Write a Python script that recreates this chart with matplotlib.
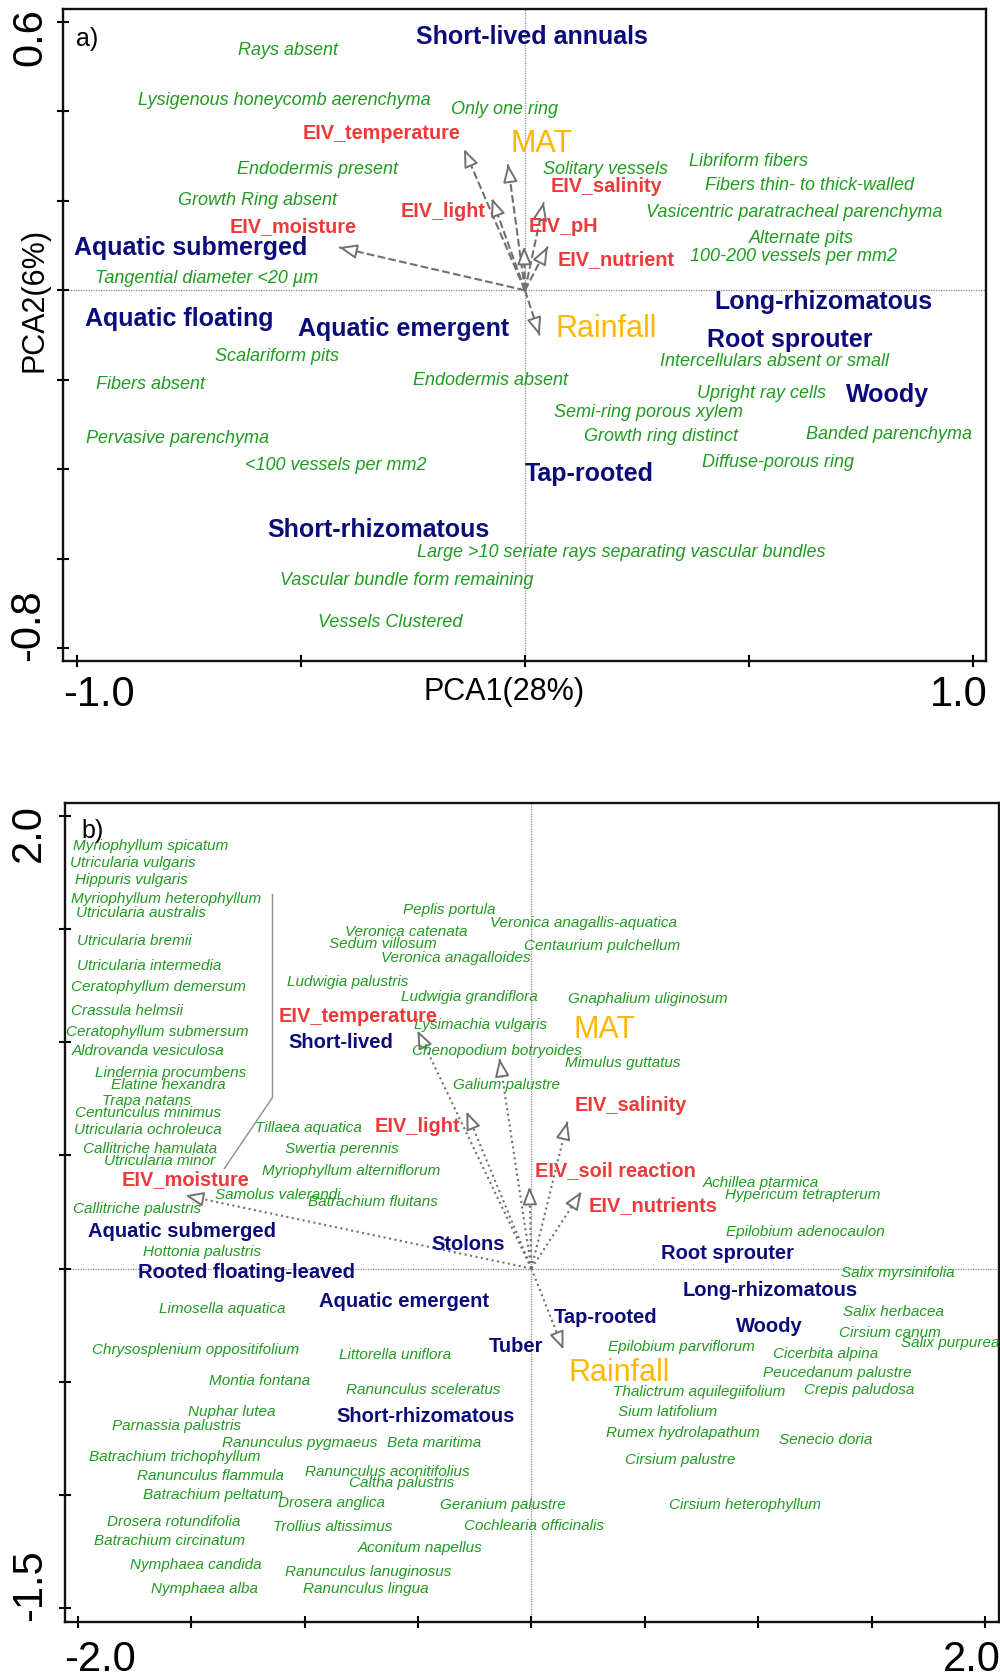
import numpy as np
import matplotlib
matplotlib.use("Agg")
import matplotlib.pyplot as plt

plt.rcParams["font.family"] = ["Liberation Sans", "DejaVu Sans"]

GREEN = "#1f9b1f"
NAVY = "#0b0b7a"
RED = "#ec3a3a"
GOLD = "#ffb600"
ARROW_GRAY = "#707070"
ZERO_GRAY = "#8a8a8a"

# ---------------- panel a: anatomical traits ----------------
a_trait_names = [
    "Rays absent", "Lysigenous honeycomb aerenchyma", "Only one ring",
    "Endodermis present", "Growth Ring absent", "Tangential diameter <20 µm",
    "Solitary vessels", "Libriform fibers", "Fibers thin- to thick-walled",
    "Vasicentric paratracheal parenchyma", "Alternate pits",
    "100-200 vessels per mm2", "Scalariform pits", "Fibers absent",
    "Endodermis absent", "Intercellulars absent or small", "Upright ray cells",
    "Semi-ring porous xylem", "Pervasive parenchyma", "Growth ring distinct",
    "Banded parenchyma", "<100 vessels per mm2", "Diffuse-porous ring",
    "Large >10 seriate rays separating vascular bundles",
    "Vascular bundle form remaining", "Vessels Clustered",
]
a_trait_x = [-0.529, -0.538, -0.045, -0.462, -0.598, -0.710, 0.179, 0.498,
             0.636, 0.600, 0.616, 0.600, -0.554, -0.835, -0.076, 0.558,
             0.529, 0.275, -0.775, 0.304, 0.813, -0.422, 0.565, 0.214,
             -0.263, -0.301]
a_trait_y = [0.537, 0.425, 0.405, 0.271, 0.201, 0.027, 0.271, 0.287, 0.235,
             0.175, 0.116, 0.076, -0.148, -0.210, -0.201, -0.159, -0.231,
             -0.273, -0.331, -0.327, -0.322, -0.392, -0.385, -0.587, -0.649,
             -0.743]

a_form_names = ["Short-lived annuals", "Aquatic submerged", "Aquatic floating",
                "Aquatic emergent", "Long-rhizomatous", "Root sprouter",
                "Woody", "Tap-rooted", "Short-rhizomatous"]
a_form_x = [0.016, -0.746, -0.772, -0.272, 0.667, 0.592, 0.810, 0.143, -0.328]
a_form_y = [0.566, 0.094, -0.065, -0.087, -0.027, -0.112, -0.235, -0.410, -0.535]

a_eiv_names = ["EIV_temperature", "EIV_light", "EIV_moisture",
               "EIV_salinity", "EIV_pH", "EIV_nutrient"]
a_eiv_label_x = [-0.321, -0.183, -0.518, 0.181, 0.085, 0.203]
a_eiv_label_y = [0.351, 0.177, 0.143, 0.231, 0.143, 0.069]
a_eiv_arrow_x = [-0.136, -0.074, -0.415, 0.042, -0.002, 0.051]
a_eiv_arrow_y = [0.316, 0.206, 0.096, 0.197, 0.098, 0.098]

a_clim_names = ["MAT", "Rainfall"]
a_clim_label_x = [0.038, 0.181]
a_clim_label_y = [0.327, -0.087]
a_clim_arrow_x = [-0.038, 0.033]
a_clim_arrow_y = [0.282, -0.101]

a_xticks = [-1.0, -0.5, 0.0, 0.5, 1.0]
a_yticks = [0.6, 0.4, 0.2, 0.0, -0.2, -0.4, -0.6, -0.8]

# ---------------- panel b: species ----------------
b_species_names = [
    "Myriophyllum spicatum", "Utricularia vulgaris", "Hippuris vulgaris",
    "Myriophyllum heterophyllum", "Utricularia australis", "Utricularia bremii",
    "Utricularia intermedia", "Ceratophyllum demersum", "Crassula helmsii",
    "Ceratophyllum submersum", "Aldrovanda vesiculosa", "Lindernia procumbens",
    "Elatine hexandra", "Trapa natans", "Centunculus minimus",
    "Utricularia ochroleuca", "Callitriche hamulata", "Utricularia minor",
    "Samolus valerandi", "Callitriche palustris", "Tillaea aquatica",
    "Swertia perennis", "Myriophyllum alterniflorum", "Batrachium fluitans",
    "Hottonia palustris", "Limosella aquatica", "Chrysosplenium oppositifolium",
    "Littorella uniflora", "Montia fontana", "Ranunculus sceleratus",
    "Nuphar lutea", "Parnassia palustris", "Ranunculus pygmaeus",
    "Beta maritima", "Batrachium trichophyllum", "Ranunculus flammula",
    "Ranunculus aconitifolius", "Caltha palustris", "Batrachium peltatum",
    "Drosera anglica", "Geranium palustre", "Drosera rotundifolia",
    "Trollius altissimus", "Cochlearia officinalis", "Batrachium circinatum",
    "Aconitum napellus", "Nymphaea candida", "Ranunculus lanuginosus",
    "Nymphaea alba", "Ranunculus lingua", "Peplis portula",
    "Veronica anagallis-aquatica", "Veronica catenata", "Sedum villosum",
    "Centaurium pulchellum", "Veronica anagalloides", "Ludwigia palustris",
    "Ludwigia grandiflora", "Gnaphalium uliginosum", "Lysimachia vulgaris",
    "Chenopodium botryoides", "Mimulus guttatus", "Galium palustre",
    "Achillea ptarmica", "Hypericum tetrapterum", "Epilobium adenocaulon",
    "Salix myrsinifolia", "Salix herbacea", "Cirsium canum", "Salix purpurea",
    "Epilobium parviflorum", "Cicerbita alpina", "Peucedanum palustre",
    "Thalictrum aquilegiifolium", "Crepis paludosa", "Sium latifolium",
    "Rumex hydrolapathum", "Senecio doria", "Cirsium palustre",
    "Cirsium heterophyllum",
]
b_species_x = [
    -1.680, -1.760, -1.764, -1.610, -1.720, -1.751, -1.685, -1.645, -1.782,
    -1.649, -1.689, -1.592, -1.601, -1.698, -1.693, -1.693, -1.680, -1.641,
    -1.120, -1.738, -0.983, -0.838, -0.794, -0.697, -1.455, -1.363, -1.482,
    -0.600, -1.200, -0.476, -1.323, -1.566, -1.023, -0.428, -1.574, -1.416,
    -0.635, -0.573, -1.402, -0.882, -0.128, -1.579, -0.878, 0.013, -1.596,
    -0.490, -1.482, -0.719, -1.442, -0.732, -0.362, 0.229, -0.551, -0.653,
    0.313, -0.335, -0.811, -0.273, 0.512, -0.225, -0.150, 0.401, -0.110,
    1.014, 1.195, 1.208, 1.614, 1.596, 1.583, 1.848, 0.662, 1.297, 1.350,
    0.741, 1.447, 0.600, 0.666, 1.297, 0.657, 0.944,
]
b_species_y = [
    1.865, 1.790, 1.715, 1.631, 1.569, 1.449, 1.335, 1.242, 1.140, 1.047,
    0.959, 0.866, 0.809, 0.742, 0.689, 0.614, 0.530, 0.473, 0.327, 0.261,
    0.619, 0.526, 0.429, 0.292, 0.071, -0.181, -0.362, -0.380, -0.499,
    -0.535, -0.636, -0.694, -0.773, -0.773, -0.835, -0.915, -0.897, -0.946,
    -1.003, -1.034, -1.043, -1.122, -1.144, -1.140, -1.206, -1.233, -1.312,
    -1.339, -1.414, -1.418, 1.582, 1.525, 1.489, 1.436, 1.427, 1.370, 1.264,
    1.198, 1.193, 1.078, 0.959, 0.906, 0.813, 0.380, 0.323, 0.163, -0.022,
    -0.194, -0.287, -0.331, -0.345, -0.376, -0.460, -0.544, -0.535, -0.632,
    -0.729, -0.756, -0.844, -1.043,
]

b_form_names = ["Short-lived", "Aquatic submerged", "Stolons",
                "Rooted floating-leaved", "Aquatic emergent", "Tuber",
                "Short-rhizomatous", "Root sprouter", "Long-rhizomatous",
                "Tap-rooted", "Woody"]
b_form_x = [-0.842, -1.539, -0.278, -1.257, -0.560, -0.066, -0.467, 0.864,
            1.054, 0.326, 1.050]
b_form_y = [0.999, 0.163, 0.106, -0.018, -0.146, -0.345, -0.654, 0.066,
            -0.097, -0.217, -0.256]

b_eiv_names = ["EIV_temperature", "EIV_light", "EIV_moisture",
               "EIV_salinity", "EIV_soil reaction", "EIV_nutrients"]
b_eiv_label_x = [-0.763, -0.503, -1.526, 0.437, 0.370, 0.538]
b_eiv_label_y = [1.114, 0.627, 0.393, 0.720, 0.433, 0.278]
b_eiv_arrow_x = [-0.503, -0.287, -1.526, 0.159, -0.009, 0.221]
b_eiv_arrow_y = [1.052, 0.694, 0.323, 0.650, 0.362, 0.340]

b_clim_names = ["MAT", "Rainfall"]
b_clim_label_x = [0.322, 0.388]
b_clim_label_y = [1.052, -0.460]
b_clim_arrow_x = [-0.141, 0.141]
b_clim_arrow_y = [0.928, -0.358]

# leader line tying the crowded aquatic species column to EIV_moisture
b_leader_x = [-1.142, -1.142, -1.354]
b_leader_y = [1.653, 0.756, 0.442]

b_xticks = [-2.0, -1.5, -1.0, -0.5, 0.0, 0.5, 1.0, 1.5, 2.0]
b_yticks = [2.0, 1.5, 1.0, 0.5, 0.0, -0.5, -1.0, -1.5]


def draw_arrow(ax, x, y, ls):
    ax.plot([0, x], [0, y], ls=ls, color=ARROW_GRAY, lw=1.5, zorder=2)
    p0 = ax.transData.transform((0.0, 0.0))
    p1 = ax.transData.transform((x, y))
    d = (p1 - p0) / np.hypot(*(p1 - p0))
    back = 16.0
    ax.annotate("", xy=(x, y), xycoords="data",
                xytext=(-d[0] * back, -d[1] * back), textcoords="offset pixels",
                arrowprops=dict(arrowstyle="-|>,head_length=0.55,head_width=0.22",
                                mutation_scale=20, fc="white", ec=ARROW_GRAY,
                                lw=1.4, shrinkA=0, shrinkB=0),
                zorder=3)


def style_axes(ax, xlim, ylim, xticks, yticks):
    ax.set_xlim(*xlim)
    ax.set_ylim(*ylim)
    ax.set_xticks(xticks)
    ax.set_yticks(yticks)
    ax.set_xticklabels([])
    ax.set_yticklabels([])
    ax.tick_params(direction="inout", length=9, width=1.5, color="black")
    for s in ax.spines.values():
        s.set_linewidth(1.7)
        s.set_color("#111111")
    ax.axhline(0, color=ZERO_GRAY, lw=0.9, ls=(0, (1, 1)), zorder=1)
    ax.axvline(0, color=ZERO_GRAY, lw=0.9, ls=(0, (1, 1)), zorder=1)


def tick_text(ax, s, axis, val, dx, dy):
    if axis == "x":
        ax.annotate(s, xy=(val, 0), xycoords=("data", "axes fraction"),
                    xytext=(dx, dy), textcoords="offset pixels",
                    ha="center", va="center", fontsize=30, annotation_clip=False)
    else:
        ax.annotate(s, xy=(0, val), xycoords=("axes fraction", "data"),
                    xytext=(dx, dy), textcoords="offset pixels", rotation=90,
                    ha="center", va="center", fontsize=30, annotation_clip=False)


fig = plt.figure(figsize=(10, 16.75), dpi=100)

# ---------------- panel a ----------------
ax1 = fig.add_axes([0.063, 1 - 661 / 1675, 0.923, 652 / 1675])
style_axes(ax1, (-1.031, 1.029), (-0.829, 0.629), a_xticks, a_yticks)

for x, y in zip(a_eiv_arrow_x, a_eiv_arrow_y):
    draw_arrow(ax1, x, y, "--")
for x, y in zip(a_clim_arrow_x, a_clim_arrow_y):
    draw_arrow(ax1, x, y, "--")

for n, x, y in zip(a_trait_names, a_trait_x, a_trait_y):
    ax1.text(x, y, n, color=GREEN, fontsize=13, style="italic",
             ha="center", va="center", zorder=4)
for n, x, y in zip(a_form_names, a_form_x, a_form_y):
    ax1.text(x, y, n, color=NAVY, fontsize=18, weight="bold",
             ha="center", va="center", zorder=4)
for n, x, y in zip(a_eiv_names, a_eiv_label_x, a_eiv_label_y):
    ax1.text(x, y, n, color=RED, fontsize=14.3, weight="bold",
             ha="center", va="center", zorder=4)
for n, x, y in zip(a_clim_names, a_clim_label_x, a_clim_label_y):
    ax1.text(x, y, n, color=GOLD, fontsize=22, ha="center", va="center", zorder=4)

ax1.text(0.026, 0.954, "a)", transform=ax1.transAxes, fontsize=18,
         ha="center", va="center")
tick_text(ax1, "-1.0", "x", a_xticks[0], 22, -34)
tick_text(ax1, "1.0", "x", a_xticks[-1], -14, -34)
tick_text(ax1, "0.6", "y", a_yticks[0], -33, -15)
tick_text(ax1, "-0.8", "y", a_yticks[-1], -35, 23)
ax1.annotate("PCA1(28%)", xy=(-0.047, 0), xycoords=("data", "axes fraction"),
             xytext=(0, -31), textcoords="offset pixels", ha="center",
             va="center", fontsize=22, annotation_clip=False)
ax1.annotate("PCA2(6%)", xy=(0, -0.022), xycoords=("axes fraction", "data"),
             xytext=(-28, 0), textcoords="offset pixels", ha="center",
             va="center", fontsize=22, rotation=90, annotation_clip=False)

# ---------------- panel b ----------------
ax2 = fig.add_axes([0.065, 1 - 1622 / 1675, 0.934, 819 / 1675])
style_axes(ax2, (-2.057, 2.062), (-1.562, 2.057), b_xticks, b_yticks)

ax2.plot(b_leader_x, b_leader_y, color="#8c8c8c", lw=1.0, zorder=2)

for x, y in zip(b_eiv_arrow_x, b_eiv_arrow_y):
    draw_arrow(ax2, x, y, ":")
for x, y in zip(b_clim_arrow_x, b_clim_arrow_y):
    draw_arrow(ax2, x, y, ":")

for n, x, y in zip(b_species_names, b_species_x, b_species_y):
    ax2.text(x, y, n, color=GREEN, fontsize=11, style="italic",
             ha="center", va="center", zorder=4)
for n, x, y in zip(b_form_names, b_form_x, b_form_y):
    ax2.text(x, y, n, color=NAVY, fontsize=14.5, weight="bold",
             ha="center", va="center", zorder=4)
for n, x, y in zip(b_eiv_names, b_eiv_label_x, b_eiv_label_y):
    ax2.text(x, y, n, color=RED, fontsize=14.4, weight="bold",
             ha="center", va="center", zorder=4)
for n, x, y in zip(b_clim_names, b_clim_label_x, b_clim_label_y):
    ax2.text(x, y, n, color=GOLD, fontsize=22, ha="center", va="center", zorder=4)

ax2.text(0.030, 0.966, "b)", transform=ax2.transAxes, fontsize=18,
         ha="center", va="center")
tick_text(ax2, "-2.0", "x", b_xticks[0], 22, -38)
tick_text(ax2, "2.0", "x", b_xticks[-1], -13, -38)
tick_text(ax2, "2.0", "y", b_yticks[0], -36, -17)
tick_text(ax2, "-1.5", "y", b_yticks[-1], -35, 23)

fig.savefig("out.png", dpi=100)
